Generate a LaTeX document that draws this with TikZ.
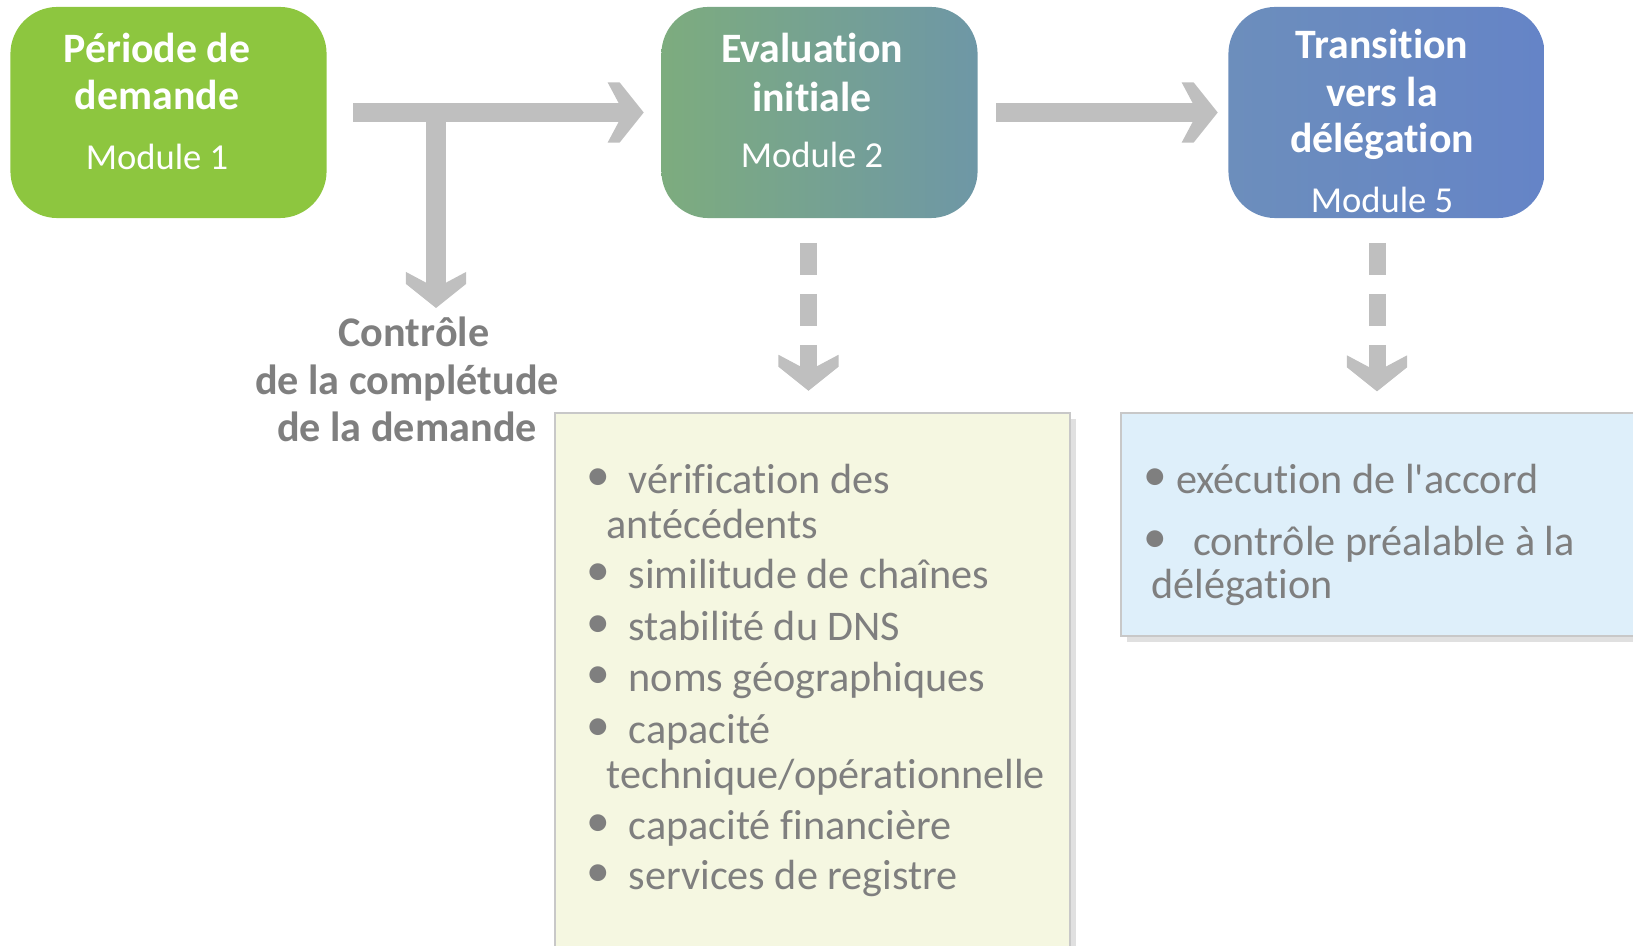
\documentclass[tikz,border=0pt]{standalone}
\usepackage{fontspec}
\setmainfont{Carlito}[Ligatures={TeX,NoCommon}]
\usetikzlibrary{calc,arrows.meta,shadows}
\definecolor{grisfleche}{RGB}{191,191,191}
\definecolor{gristexte}{RGB}{127,127,127}
\definecolor{grisbord}{RGB}{200,200,200}
\definecolor{vertmod}{RGB}{141,198,63}
\definecolor{vertbleu}{RGB}{125,172,126}
\definecolor{bleuvert}{RGB}{110,151,166}
\definecolor{bleugris}{RGB}{108,142,188}
\definecolor{bleumod}{RGB}{101,132,199}
\definecolor{jaunepale}{RGB}{245,247,225}
\definecolor{bleupale}{RGB}{222,239,250}
% pointe en chevron epais
\pgfdeclarearrow{
  name=Pointe,
  setup code={
    \pgfarrowssettipend{0pt}
    \pgfarrowssetbackend{-0.36cm}
    \pgfarrowssetlineend{-0.2cm}
    \pgfarrowsupperhullpoint{-0.36cm}{0.3cm}
    \pgfarrowsupperhullpoint{0pt}{0pt}
  },
  drawing code={
    \pgfpathmoveto{\pgfpointorigin}
    \pgfpathlineto{\pgfpoint{-0.24cm}{0.3cm}}
    \pgfpathlineto{\pgfpoint{-0.36cm}{0.3cm}}
    \pgfpathlineto{\pgfpoint{-0.2cm}{0pt}}
    \pgfpathlineto{\pgfpoint{-0.36cm}{-0.3cm}}
    \pgfpathlineto{\pgfpoint{-0.24cm}{-0.3cm}}
    \pgfpathclose
    \pgfusepathqfill
  }
}
\tikzset{
    module/.style={rounded corners=0.47cm, minimum width=3.16cm, minimum height=2.11cm, inner sep=0},
    titre/.style={text=white, font=\fontsize{11.9}{14}\selectfont\bfseries, anchor=base, inner sep=0},
    soustitre/.style={text=white, font=\fontsize{10.4}{13}\selectfont, anchor=base, inner sep=0},
    legende/.style={text=gristexte, font=\fontsize{12}{14}\selectfont\bfseries, anchor=base, inner sep=0},
    fleche/.style={color=grisfleche, draw, line width=0.19cm, -Pointe},
    pointille/.style={fleche, line width=0.17cm, dash pattern=on 0.32cm off 0.19cm},
    cadre/.style={draw=grisbord, line width=0.6pt, inner sep=0,
      drop shadow={shadow xshift=0.06cm, shadow yshift=-0.06cm, fill=black, opacity=0.12}},
    puce/.style={text=gristexte, font=\fontsize{13.5}{14}\selectfont, anchor=base, inner sep=0},
    ligne/.style={text=gristexte, font=\fontsize{12}{14}\selectfont, anchor=base west, inner sep=0},
  }
\begin{document}
\begin{tikzpicture}[x=0.01cm,y=-0.01cm]
    \useasboundingbox (0,0) rectangle (1633,946);

    %MODULES
    \node[module, fill=vertmod] (m1) at (168.5,112.5) {};
    \node[module, left color=vertbleu, right color=bleuvert] (m2) at (819.5,112.5) {};
    \node[module, left color=bleugris, right color=bleumod] (m3) at (1386.5,112.5) {};

    %titres
    \foreach \x/\y/\txt [count=\i] in {157/63/Période de, 157/110/demande,
        812/63/Evaluation, 812/112/initiale,
        1382/59/Transition, 1382/107/vers la, 1382/153/délégation}
      \node[titre] (t\i) at (\x,\y) {\txt};
    \node[soustitre] (s1) at (157,170) {Module 1};
    \node[soustitre] (s2) at (812,168) {Module 2};
    \node[soustitre] (s3) at (1382,213) {Module 5};

    %CADRES des listes
    \node[cadre, fill=jaunepale, minimum width=5.15cm, minimum height=5.47cm] (l2) at (812.5,686.5) {};
    \node[cadre, fill=bleupale, minimum width=5.19cm, minimum height=2.22cm] (l3) at (1380.5,524.5) {};

    %FLECHES
    \coordinate (branche) at (436,105);
    \coordinate (bas) at (436,308);
    \draw[fleche] ($(m1.east)+(26,0)$) -- ($(m2.west)+(-17,0)$);
    \draw[fleche] (branche) -- (bas);
    \draw[fleche] ($(m2.east)+(18,0)$) -- ($(m3.west)+(-10,0)$);
    \draw[pointille] ($(m2.south)+(-11,24)$) -- ($(l2.north)+(-4,-21)$);
    \draw[pointille] ($(m3.south)+(-9.5,24)$) -- ($(l3.north)+(-3.5,-21)$);

    %controle
    \node[legende] (c1) at (414,347) {Contrôle};
    \node[legende] (c2) at (407,395) {de la complétude};
    \node[legende] (c3) at (407,442) {de la demande};

    %liste module 2
    \foreach \y/\txt [count=\i] in {494/vérification des, 589/similitude de chaînes,
        640/stabilité du DNS, 691/noms géographiques, 743/capacité,
        839/capacité financière, 889/services de registre}{
      \node[puce] (p\i) at (598.5,\y-3) {\textbullet};
      \node[ligne] (e\i) at (628,\y) {\txt};
    }
    \node[ligne] (suite1) at (606,539) {antécédents};
    \node[ligne] (suite2) at (606,788) {technique/opérationnelle};

    %liste module 5
    \node[puce] (q1) at (1155,490.5) {\textbullet};
    \node[ligne] (f1) at (1175.5,493.5) {exécution de l\textquotesingle accord};
    \node[puce] (q2) at (1155,553) {\textbullet};
    \node[ligne] (f2) at (1192.5,556) {contrôle préalable à la};
    \node[ligne] (f3) at (1151,599) {délégation};
\end{tikzpicture}
\end{document}
